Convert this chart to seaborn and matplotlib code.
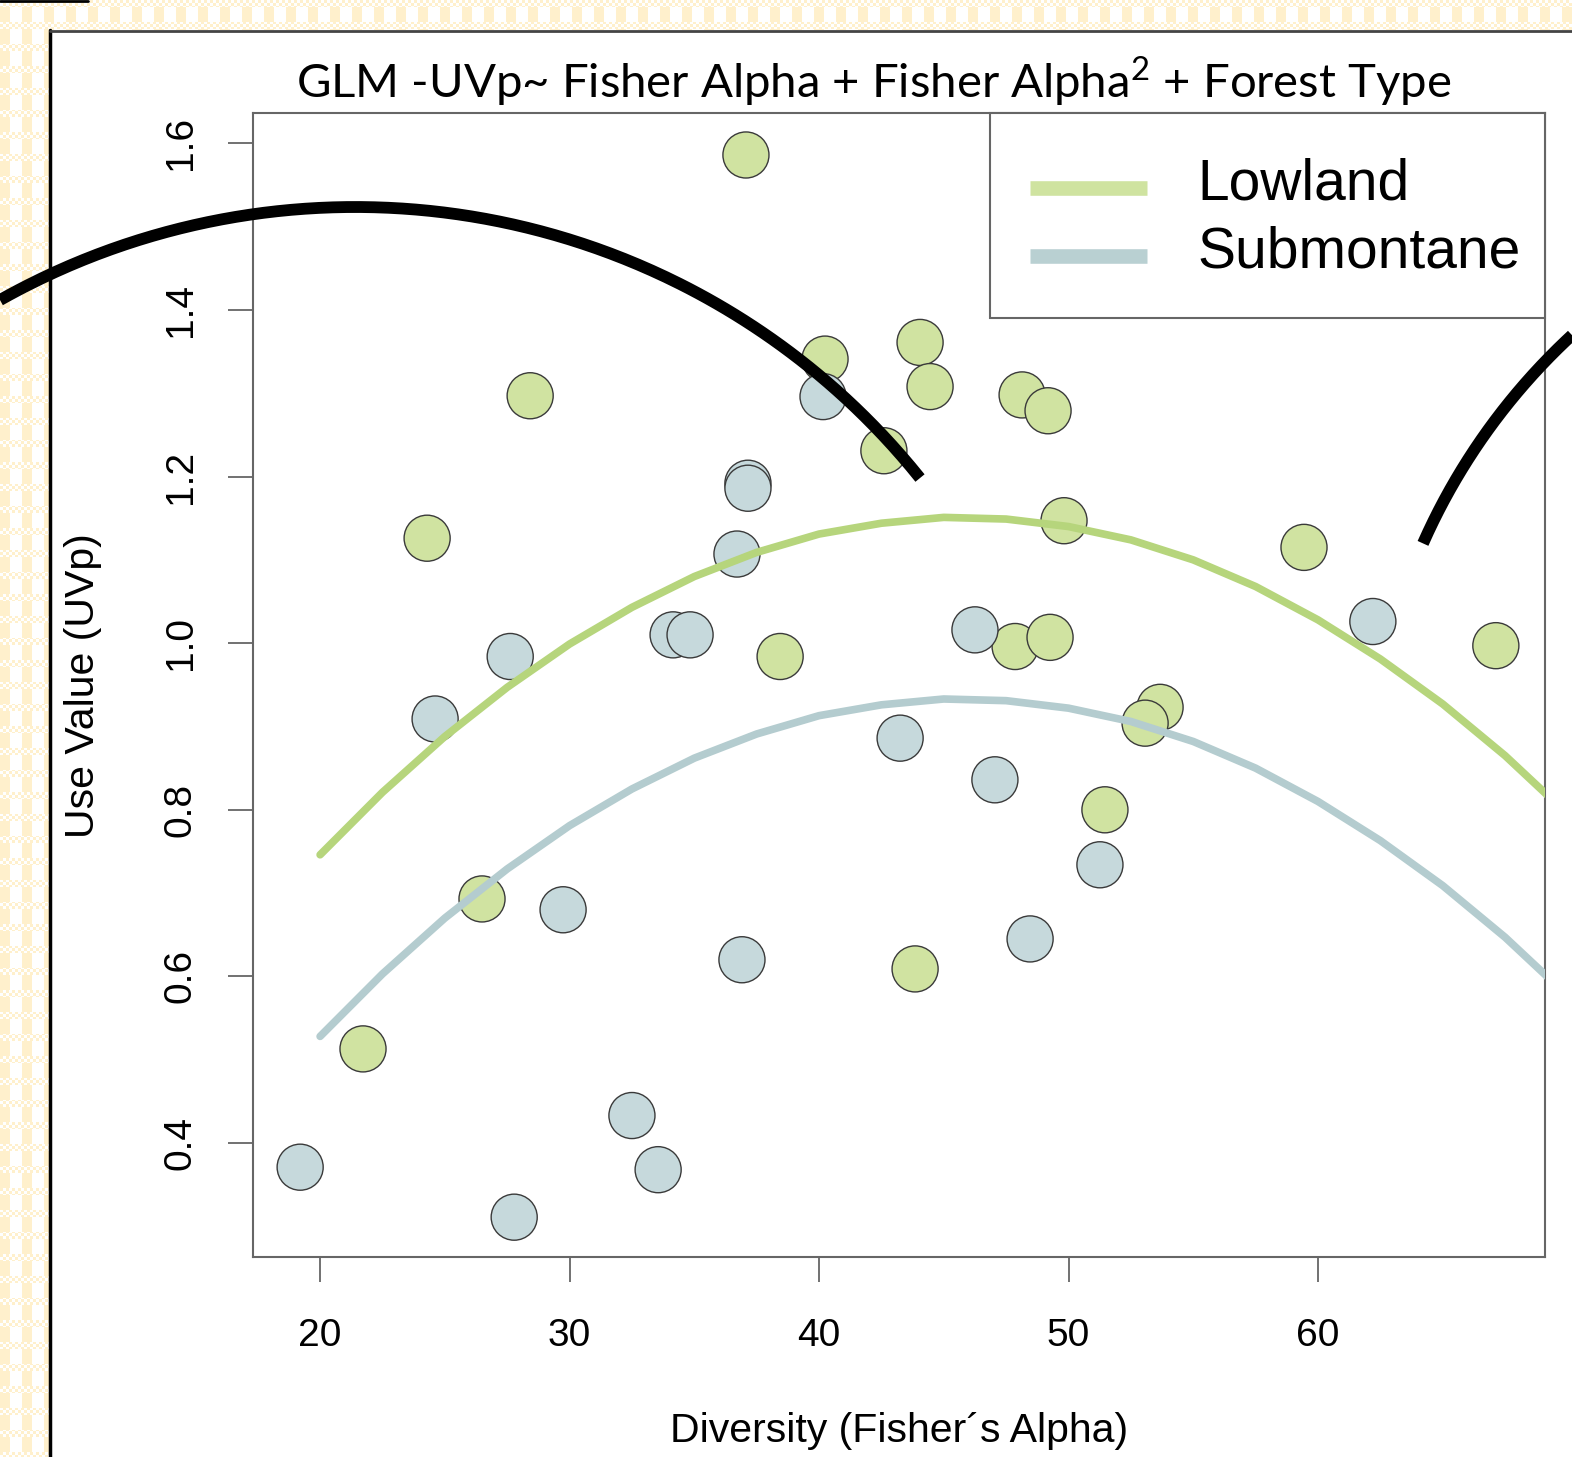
import numpy as np
import pandas as pd
import matplotlib
matplotlib.use("Agg")
import matplotlib.pyplot as plt
from matplotlib.patches import Rectangle
from matplotlib.lines import Line2D
import seaborn as sns

# observed plots
low_x = [37.07, 28.42, 24.29, 40.24, 44.05, 44.45, 42.60, 48.14, 49.18, 49.82, 59.44,
         67.13, 38.44, 47.86, 49.26, 53.67, 53.07, 51.46, 26.49, 43.85, 21.72]
low_y = [1.586, 1.297, 1.126, 1.341, 1.361, 1.308, 1.231, 1.298, 1.279, 1.147, 1.115,
         0.997, 0.984, 0.996, 1.007, 0.923, 0.904, 0.800, 0.693, 0.609, 0.513]
sub_x = [40.16, 37.15, 37.15, 36.71, 34.15, 34.83, 27.62, 24.61, 46.25, 62.20,
         43.25, 47.05, 51.26, 48.46, 29.74, 36.91, 32.50, 33.55, 19.20, 27.78]
sub_y = [1.296, 1.192, 1.186, 1.107, 1.010, 1.010, 0.984, 0.909, 1.016, 1.026,
         0.886, 0.836, 0.734, 0.645, 0.680, 0.620, 0.433, 0.368, 0.371, 0.311]

# fitted GLM curves
fit_x = [20, 22.5, 25, 27.5, 30, 32.5, 35, 37.5, 40, 42.5, 45, 47.5, 50, 52.5, 55,
         57.5, 60, 62.5, 65, 67.5, 70]
fit_low = [0.746, 0.821, 0.888, 0.947, 0.999, 1.043, 1.080, 1.109, 1.131, 1.144, 1.151,
           1.149, 1.140, 1.124, 1.100, 1.068, 1.028, 0.981, 0.927, 0.865, 0.795]
fit_sub = [0.528, 0.603, 0.670, 0.729, 0.781, 0.825, 0.862, 0.891, 0.913, 0.926, 0.933,
           0.931, 0.922, 0.906, 0.882, 0.850, 0.810, 0.763, 0.709, 0.647, 0.577]

forest_types = ["Lowland", "Submontane"]
pt_colors = {"Lowland": "#d0e3a1", "Submontane": "#c6d9dc"}
line_colors = {"Lowland": "#b6d57c", "Submontane": "#b4cccf"}

df = pd.DataFrame({
    "alpha": low_x + sub_x,
    "uvp": low_y + sub_y,
    "forest": ["Lowland"] * len(low_x) + ["Submontane"] * len(sub_x),
})
fits = pd.DataFrame({
    "alpha": fit_x + fit_x,
    "uvp": fit_low + fit_sub,
    "forest": ["Lowland"] * len(fit_x) + ["Submontane"] * len(fit_x),
})

sns.set_theme(style="white")
plt.rcParams["font.family"] = ["Liberation Sans", "DejaVu Sans"]
plt.rcParams["mathtext.fontset"] = "custom"
plt.rcParams["mathtext.rm"] = "Lato"
plt.rcParams["text.color"] = "black"
plt.rcParams["xtick.color"] = "#666666"
plt.rcParams["ytick.color"] = "#666666"
plt.rcParams["xtick.labelcolor"] = "black"
plt.rcParams["ytick.labelcolor"] = "black"

W, H = 1572, 1457
fig = plt.figure(figsize=(W / 100, H / 100), dpi=100)

# checkered slide background
bg = fig.add_axes([0, 0, 1, 1], zorder=-10)
yy, xx = np.mgrid[0:H, 0:W]
band = (yy % 22) < 7
dots = ((xx // 3 + yy // 3) % 2) == 0
yellow = (((xx % 22) < 10) & ~band) | (band & dots)
img = np.ones((H, W, 3))
img[yellow] = [1.0, 0.945, 0.80]
bg.imshow(img, extent=[0, 1, 0, 1], aspect="auto")
bg.axis("off")

fig.patches.append(Rectangle((50 / W, 0), 1 - 50 / W, 1 - 30 / H, transform=fig.transFigure,
                             facecolor="white", edgecolor="none", zorder=-5))
fig.lines.append(Line2D([50 / W, 50 / W], [0, 1 - 30 / H], transform=fig.transFigure,
                        color="black", lw=2.5))
fig.lines.append(Line2D([50 / W, 1], [1 - 30.5 / H, 1 - 30.5 / H], transform=fig.transFigure,
                        color="#444444", lw=2))
fig.lines.append(Line2D([0, 88 / W], [1 - 0.5 / H, 1 - 0.5 / H], transform=fig.transFigure,
                        color="black", lw=2))

# slide decoration: two circular arcs (pixel space)
def arc(cx, cy, r, x0, x1, upper=True):
    px = np.linspace(x0, x1, 200)
    py = cy - np.sqrt(r ** 2 - (px - cx) ** 2)
    return px / W, 1 - py / H

ax1, ay1 = arc(355.1, 931.2, 724.2, 0, 920)
ax2, ay2 = arc(2000.0, 798.8, 631.0, 1423, 1572)
fig.lines.append(Line2D(ax1, ay1, transform=fig.transFigure, color="black", lw=8.5,
                        solid_capstyle="butt", zorder=5))
fig.lines.append(Line2D(ax2, ay2, transform=fig.transFigure, color="black", lw=8.5,
                        solid_capstyle="butt", zorder=5))

ax = fig.add_axes([253 / W, 1 - 1257 / H, (1545 - 253) / W, (1257 - 113) / H])
ax.set_facecolor("none")

sns.scatterplot(data=df, x="alpha", y="uvp", hue="forest", palette=pt_colors,
                s=1100, edgecolor="#3a3a3a", linewidth=1.0, legend=False, ax=ax, zorder=2)
sns.lineplot(data=fits, x="alpha", y="uvp", hue="forest", palette=line_colors,
             linewidth=5.5, legend=False, ax=ax, zorder=3, sort=False)
for ln in ax.get_lines():
    ln.set_solid_joinstyle("round")

ax.set_xlim(17.31, 69.10)
ax.set_ylim(0.2632, 1.6364)
ax.set_xticks([20, 30, 40, 50, 60])
ax.set_yticks([0.4, 0.6, 0.8, 1.0, 1.2, 1.4, 1.6])
ax.set_yticklabels(["0.4", "0.6", "0.8", "1.0", "1.2", "1.4", "1.6"])
ax.set_xlabel("")
ax.set_ylabel("")
ax.tick_params(axis="both", direction="out", length=18, width=1.3,
               labelsize=28, bottom=True, left=True)
ax.tick_params(axis="x", pad=26)
ax.tick_params(axis="y", pad=21, labelrotation=90)
for lab in ax.get_yticklabels():
    lab.set_va("center")
for sp in ax.spines.values():
    sp.set_color("#666666")
    sp.set_linewidth(1.5)

# legend box
ax.add_patch(Rectangle((0.5704, 0.8208), 0.4296, 0.1792, transform=ax.transAxes,
                       facecolor="white", edgecolor="#666666", lw=1.5, zorder=6, clip_on=False))
leg_y = {"Lowland": 0.9344, "Submontane": 0.8750}
leg_c = {"Lowland": "#cfe3a0", "Submontane": "#b9d0d2"}
for ft in forest_types:
    ax.plot([0.6014, 0.6920], [leg_y[ft], leg_y[ft]], transform=ax.transAxes,
            color=leg_c[ft], lw=10.5, solid_capstyle="butt", zorder=7, clip_on=False)
    ax.text(0.7307, leg_y[ft] + 0.003, ft, transform=ax.transAxes, fontsize=41,
            va="center", ha="left", zorder=7)

fig.text(873.5 / W, 1 - 98 / H, r"GLM -UVp~ Fisher Alpha + Fisher Alpha$^{\mathrm{2}}$ + Forest Type",
         family="Lato", fontsize=34, ha="center", va="baseline")
fig.text(899 / W, 1 - 1431 / H, "Diversity (Fisher\u00b4s Alpha)", fontsize=29.5,
         ha="center", va="center")
fig.text(83 / W, 1 - 686 / H, "Use Value (UVp)", fontsize=29.5, rotation=90,
         ha="center", va="center")

fig.savefig("out.png", dpi=100)
